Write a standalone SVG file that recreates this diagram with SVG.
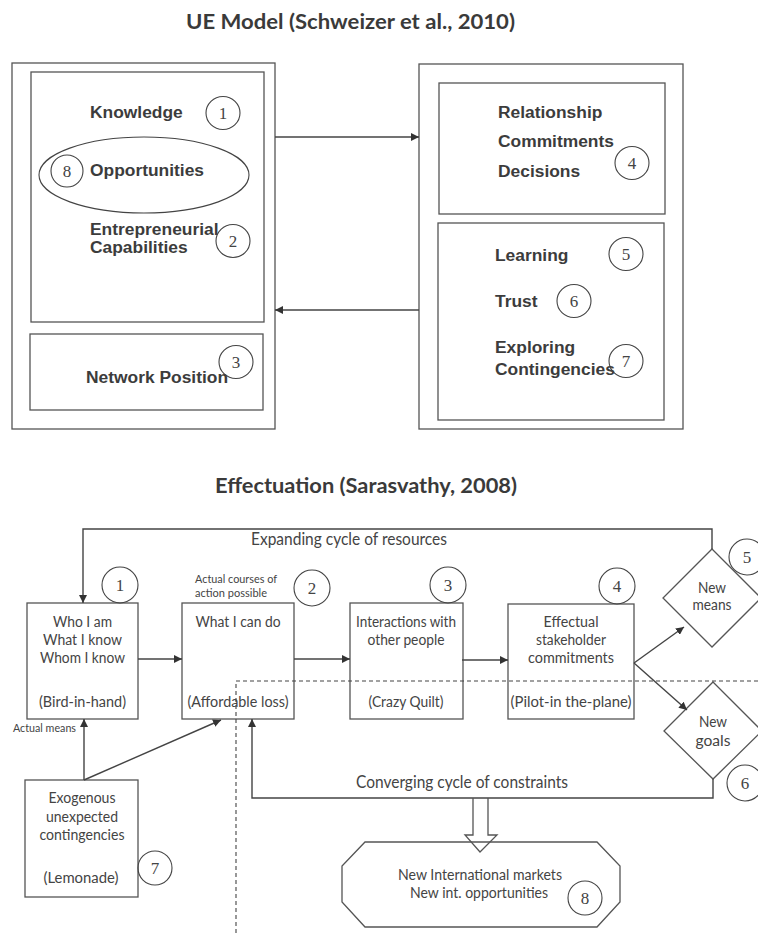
<svg xmlns="http://www.w3.org/2000/svg" width="758" height="933" viewBox="0 0 758 933">
  <style>
    .box { fill: none; stroke: #555; stroke-width: 1.3; }
    .ln { fill: none; stroke: #444; stroke-width: 1.4; }
    .dash { fill: none; stroke: #444; stroke-width: 1.1; stroke-dasharray: 4 3; }
    .num { fill: none; stroke: #444; stroke-width: 1.1; }
    .numt { font-family: "Liberation Serif", serif; font-size: 17px; fill: #444; text-anchor: middle; }
    .title { font-family: Lato, "Open Sans", sans-serif; font-weight: bold; font-size: 21px; fill: #3a3a3a; }
    .ue { font-family: "Liberation Sans", Arial, sans-serif; font-weight: bold; font-size: 17.4px; fill: #3c3c3c; }
    .ef { font-family: Lato, "Open Sans", sans-serif; font-size: 15.5px; fill: #444; text-anchor: middle; }
    .sm { font-family: Lato, "Open Sans", sans-serif; font-size: 11px; fill: #444; }
    .lab { font-family: Lato, "Open Sans", sans-serif; font-size: 17px; fill: #444; }
  </style>
  <defs>
    <marker id="ah" viewBox="0 0 10 10" refX="10" refY="5" markerWidth="8" markerHeight="8" markerUnits="userSpaceOnUse" orient="auto">
      <path d="M0,0 L10,5 L0,10 z" fill="#333"/>
    </marker>
    <marker id="ahb" viewBox="0 0 10 10" refX="10" refY="5" markerWidth="10" markerHeight="10" markerUnits="userSpaceOnUse" orient="auto">
      <path d="M0,0 L10,5 L0,10 z" fill="#333"/>
    </marker>
  </defs>
  <rect width="758" height="933" fill="#fff"/>

  <!-- UE model -->
  <text class="title" x="186" y="29" textLength="329" lengthAdjust="spacingAndGlyphs">UE Model (Schweizer et al., 2010)</text>

  <g id="ue-firm">
    <rect class="box" x="12" y="63" width="263" height="366"/>
    <g id="ue-resources">
      <rect class="box" x="31" y="72" width="233" height="250"/>
      <text class="ue" x="90" y="118">Knowledge</text>
      <ellipse class="num" cx="223" cy="113" rx="17" ry="16.5"/>
      <text class="numt" x="223" y="119">1</text>
      <ellipse class="num" cx="144" cy="175" rx="105" ry="38"/>
      <ellipse class="num" cx="67" cy="171" rx="16" ry="16"/>
      <text class="numt" x="67" y="177">8</text>
      <text class="ue" x="90" y="176">Opportunities</text>
      <text class="ue" x="90" y="235">Entrepreneurial</text>
      <text class="ue" x="90" y="253">Capabilities</text>
      <ellipse class="num" cx="233" cy="241" rx="17" ry="16.5"/>
      <text class="numt" x="233" y="247">2</text>
    </g>
    <g id="ue-network">
      <rect class="box" x="30" y="334" width="233" height="76"/>
      <text class="ue" x="86" y="383">Network Position</text>
      <ellipse class="num" cx="236" cy="362" rx="17" ry="16.5"/>
      <text class="numt" x="236" y="368">3</text>
    </g>
  </g>

  <g id="ue-network-ties">
    <rect class="box" x="419" y="64" width="264" height="365"/>
    <g id="ue-relationship">
      <rect class="box" x="439" y="83" width="226" height="131"/>
      <text class="ue" x="498" y="118">Relationship</text>
      <text class="ue" x="498" y="147">Commitments</text>
      <text class="ue" x="498" y="177">Decisions</text>
      <ellipse class="num" cx="632" cy="163" rx="17" ry="16.5"/>
      <text class="numt" x="632" y="169">4</text>
    </g>
    <g id="ue-learning">
      <rect class="box" x="438" y="223" width="226" height="197"/>
      <text class="ue" x="495" y="261">Learning</text>
      <ellipse class="num" cx="626" cy="254" rx="17" ry="16.5"/>
      <text class="numt" x="626" y="260">5</text>
      <text class="ue" x="495" y="307">Trust</text>
      <ellipse class="num" cx="574" cy="301" rx="17" ry="16.5"/>
      <text class="numt" x="574" y="307">6</text>
      <text class="ue" x="495" y="353">Exploring</text>
      <text class="ue" x="495" y="375">Contingencies</text>
      <ellipse class="num" cx="626" cy="361" rx="17" ry="16.5"/>
      <text class="numt" x="626" y="367">7</text>
    </g>
  </g>

  <g id="ue-connectors">
    <line class="ln" x1="275" y1="137" x2="419" y2="137" marker-end="url(#ah)"/>
    <line class="ln" x1="419" y1="310" x2="275" y2="310" marker-end="url(#ah)"/>
  </g>

  <!-- Effectuation -->
  <text class="title" x="215" y="493" textLength="302" lengthAdjust="spacingAndGlyphs">Effectuation (Sarasvathy, 2008)</text>

  <g id="ef-bird">
    <rect class="box" x="27" y="603" width="111" height="116"/>
    <text class="ef" x="82.5" y="627" textLength="59" lengthAdjust="spacingAndGlyphs">Who I am</text>
    <text class="ef" x="82.5" y="645" textLength="79" lengthAdjust="spacingAndGlyphs">What I know</text>
    <text class="ef" x="82.5" y="663" textLength="85" lengthAdjust="spacingAndGlyphs">Whom I know</text>
    <text class="ef" x="82.5" y="707" textLength="87" lengthAdjust="spacingAndGlyphs">(Bird-in-hand)</text>
    <circle class="num" cx="120" cy="585" r="18"/>
    <text class="numt" x="120" y="591">1</text>
  </g>

  <g id="ef-affordable">
    <rect class="box" x="182" y="603" width="112" height="116"/>
    <text class="sm" x="195" y="583" textLength="82" lengthAdjust="spacingAndGlyphs">Actual courses of</text>
    <text class="sm" x="195" y="597" textLength="72" lengthAdjust="spacingAndGlyphs">action possible</text>
    <text class="ef" x="238" y="627" textLength="85" lengthAdjust="spacingAndGlyphs">What I can do</text>
    <text class="ef" x="238" y="707" textLength="101" lengthAdjust="spacingAndGlyphs">(Affordable loss)</text>
    <circle class="num" cx="312" cy="588" r="18"/>
    <text class="numt" x="312" y="594">2</text>
  </g>

  <g id="ef-quilt">
    <rect class="box" x="350" y="603" width="113" height="116"/>
    <text class="ef" x="406" y="627" textLength="100" lengthAdjust="spacingAndGlyphs">Interactions with</text>
    <text class="ef" x="406" y="645" textLength="77" lengthAdjust="spacingAndGlyphs">other people</text>
    <text class="ef" x="406" y="707" textLength="75" lengthAdjust="spacingAndGlyphs">(Crazy Quilt)</text>
    <circle class="num" cx="448" cy="585" r="18"/>
    <text class="numt" x="448" y="591">3</text>
  </g>

  <g id="ef-pilot">
    <rect class="box" x="508" y="604" width="126" height="115"/>
    <text class="ef" x="571" y="627" textLength="55" lengthAdjust="spacingAndGlyphs">Effectual</text>
    <text class="ef" x="571" y="645" textLength="70" lengthAdjust="spacingAndGlyphs">stakeholder</text>
    <text class="ef" x="571" y="663" textLength="86" lengthAdjust="spacingAndGlyphs">commitments</text>
    <text class="ef" x="571" y="707" textLength="121" lengthAdjust="spacingAndGlyphs">(Pilot-in the-plane)</text>
    <circle class="num" cx="617" cy="586" r="18"/>
    <text class="numt" x="617" y="592">4</text>
  </g>

  <g id="ef-means">
    <path class="box" d="M712,549 L761,598 L712,647 L663,598 Z"/>
    <text class="ef" x="712" y="593" textLength="28" lengthAdjust="spacingAndGlyphs">New</text>
    <text class="ef" x="712" y="610" textLength="39" lengthAdjust="spacingAndGlyphs">means</text>
    <circle class="num" cx="747" cy="557" r="18"/>
    <text class="numt" x="747" y="563">5</text>
  </g>

  <g id="ef-goals">
    <path class="box" d="M713,682 L762,731 L713,779 L664,731 Z"/>
    <text class="ef" x="713" y="727" textLength="28" lengthAdjust="spacingAndGlyphs">New</text>
    <text class="ef" x="713" y="746" textLength="35" lengthAdjust="spacingAndGlyphs">goals</text>
    <circle class="num" cx="745" cy="783" r="18"/>
    <text class="numt" x="745" y="789">6</text>
  </g>

  <g id="ef-lemonade">
    <rect class="box" x="25" y="780" width="113" height="117"/>
    <text class="ef" x="82" y="803" textLength="67" lengthAdjust="spacingAndGlyphs">Exogenous</text>
    <text class="ef" x="82" y="822" textLength="72" lengthAdjust="spacingAndGlyphs">unexpected</text>
    <text class="ef" x="82" y="840" textLength="85" lengthAdjust="spacingAndGlyphs">contingencies</text>
    <text class="ef" x="81" y="883" textLength="75" lengthAdjust="spacingAndGlyphs">(Lemonade)</text>
    <circle class="num" cx="155" cy="868" r="17"/>
    <text class="numt" x="155" y="874">7</text>
  </g>

  <g id="ef-markets">
    <path class="box" d="M365,842 L597,842 L620,866 L620,902 L597,927 L365,927 L342,902 L342,866 Z"/>
    <text class="ef" x="480" y="880" textLength="164" lengthAdjust="spacingAndGlyphs">New International markets</text>
    <text class="ef" x="479" y="898" textLength="138" lengthAdjust="spacingAndGlyphs">New int. opportunities</text>
    <circle class="num" cx="585" cy="898" r="17"/>
    <text class="numt" x="585" y="904">8</text>
  </g>

  <g id="ef-connectors">
    <!-- expanding cycle of resources -->
    <path class="ln" d="M712,549 L712,529 L83,529 L83,603" marker-end="url(#ah)"/>
    <text class="lab" x="251" y="545" textLength="196" lengthAdjust="spacingAndGlyphs">Expanding cycle of resources</text>
    <!-- main flow -->
    <line class="ln" x1="138" y1="659" x2="182" y2="659" marker-end="url(#ah)"/>
    <line class="ln" x1="294" y1="659" x2="350" y2="659" marker-end="url(#ah)"/>
    <line class="ln" x1="462" y1="660" x2="508" y2="660" marker-end="url(#ah)"/>
    <line class="ln" x1="634" y1="663" x2="684" y2="627" marker-end="url(#ah)"/>
    <line class="ln" x1="634" y1="663" x2="687" y2="710" marker-end="url(#ah)"/>
    <!-- converging cycle of constraints -->
    <path class="ln" d="M713,779 L713,798 L252,798 L252,719" marker-end="url(#ah)"/>
    <text class="lab" x="356" y="788" textLength="212" lengthAdjust="spacingAndGlyphs">Converging cycle of constraints</text>
    <!-- contingencies -->
    <line class="ln" x1="84" y1="780" x2="84" y2="719" marker-end="url(#ah)"/>
    <line class="ln" x1="84" y1="780" x2="221" y2="720" marker-end="url(#ah)"/>
    <text class="sm" x="13" y="732" textLength="63" lengthAdjust="spacingAndGlyphs">Actual means</text>
    <!-- outcome arrow -->
    <path class="box" d="M473,798 L473,835 L465,835 L480,852 L497,835 L488,835 L488,798"/>
    <!-- international boundary -->
    <path class="dash" d="M236,933 L236,681 L758,681"/>
  </g>
</svg>
